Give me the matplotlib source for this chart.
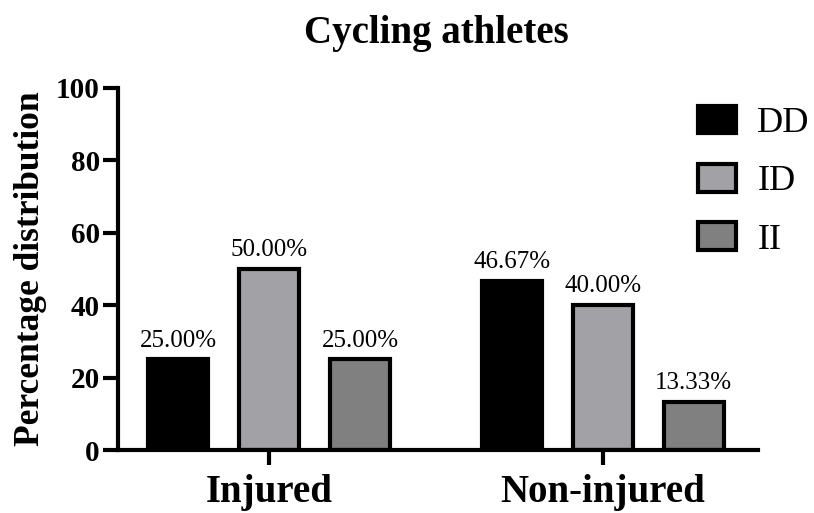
import numpy as np
import matplotlib
matplotlib.use("Agg")
import matplotlib.pyplot as plt
from matplotlib.patches import Patch

groups = ["Injured", "Non-injured"]
series = ["DD", "ID", "II"]
values = {
    "DD": [25.00, 46.67],
    "ID": [50.00, 40.00],
    "II": [25.00, 13.33],
}
labels = {
    "DD": ["25.00%", "46.67%"],
    "ID": ["50.00%", "40.00%"],
    "II": ["25.00%", "13.33%"],
}
colors = {"DD": "#000000", "ID": "#a2a1a6", "II": "#808080"}

plt.rcParams["font.family"] = ["Liberation Serif", "DejaVu Serif"]


def main():
    fig = plt.figure(figsize=(8.14, 5.13), dpi=100)
    ax = fig.add_axes([0.145, 0.1228, 0.786, 0.7057])

    x = np.arange(len(groups))
    width = 0.18
    step = 0.2725

    for i, s in enumerate(series):
        pos = x + (i - 1) * step
        ax.bar(pos, values[s], width, color=colors[s], edgecolor="black", linewidth=3)
        for p, v, lab in zip(pos, values[s], labels[s]):
            ax.text(p, v + 2.2, lab, ha="center", va="bottom", fontsize=18)

    ax.set_xlim(-0.452, 1.464)
    ax.set_ylim(0, 100)
    ax.set_yticks([0, 20, 40, 60, 80, 100])
    ax.set_xticks(x)
    ax.set_xticklabels(groups, fontsize=28, fontweight="bold")
    for t in ax.get_yticklabels():
        t.set_fontsize(21)
        t.set_fontweight("bold")

    for side in ["top", "right"]:
        ax.spines[side].set_visible(False)
    for side in ["left", "bottom"]:
        ax.spines[side].set_linewidth(3)
    ax.tick_params(axis="y", length=11, width=3, pad=2)
    ax.tick_params(axis="x", length=11, width=3, pad=6)

    ax.set_ylabel("Percentage distribution", fontsize=25.5, fontweight="bold")
    ax.yaxis.set_label_coords(-0.111, 0.5)
    fig.text(0.536, 0.935, "Cycling athletes", ha="center", va="center",
             fontsize=28, fontweight="bold")

    handles = [Patch(facecolor=colors[s], edgecolor="black", linewidth=3) for s in series]
    fig.legend(handles, series, loc="upper left", bbox_to_anchor=(0.8395, 0.822),
               frameon=False, fontsize=26, handlelength=1.05, handleheight=0.8,
               labelspacing=0.66, handletextpad=0.6, borderaxespad=0)

    fig.savefig("out.png", dpi=100)


if __name__ == "__main__":
    main()
